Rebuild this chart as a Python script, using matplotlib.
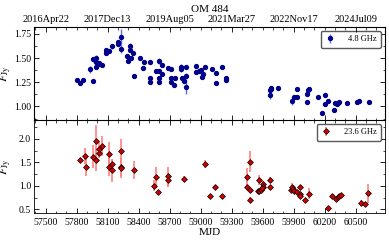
import numpy as np
import matplotlib
matplotlib.use('Agg')
import matplotlib.pyplot as plt
from matplotlib.ticker import MultipleLocator

plt.rcParams['font.family'] = ['Liberation Serif', 'DejaVu Serif']
plt.rcParams['mathtext.fontset'] = 'stix'

# 4.8 GHz light curve (MJD, flux density in Jy, error)
mjd_c = [57806, 57831, 57863, 57925, 57957, 57960, 57983, 57986, 57989, 58015,
         58018, 58044, 58079, 58079, 58111, 58140, 58198, 58198, 58224, 58227,
         58288, 58295, 58317, 58320, 58323, 58349, 58352, 58417, 58449, 58446,
         58507, 58507, 58507, 58565, 58598, 58598, 58598, 58598, 58623, 58626,
         58687, 58713, 58713, 58713, 58748, 58745, 58810, 58810, 58817, 58836,
         58862, 58862, 58862, 58958, 58958, 58984, 59006, 59009, 59025, 59044,
         59112, 59144, 59144, 59211, 59244, 59244, 59672, 59672, 59679, 59682,
         59752, 59884, 59907, 59930, 59930, 60025, 60025, 60042, 60052, 60132,
         60174, 60200, 60200, 60235, 60293, 60297, 60316, 60326, 60338, 60418,
         60509, 60531, 60625]
flux_c = [1.269, 1.241, 1.276, 1.382, 1.258, 1.485, 1.502, 1.403, 1.463, 1.453,
          1.435, 1.424, 1.580, 1.555, 1.573, 1.619, 1.665, 1.644, 1.715, 1.594,
          1.524, 1.467, 1.580, 1.623, 1.495, 1.555, 1.318, 1.502, 1.460, 1.396,
          1.460, 1.297, 1.251, 1.368, 1.467, 1.368, 1.297, 1.251, 1.428, 1.333,
          1.396, 1.389, 1.290, 1.255, 1.290, 1.219, 1.410, 1.382, 1.297, 1.262,
          1.410, 1.318, 1.202, 1.417, 1.357, 1.364, 1.375, 1.308, 1.333, 1.410,
          1.386, 1.350, 1.237, 1.410, 1.290, 1.276, 1.166, 1.116, 1.180, 1.187,
          1.187, 1.060, 1.098, 1.098, 1.176, 1.130, 1.045, 1.169, 1.180, 1.102,
          0.930, 1.116, 1.025, 1.053, 0.965, 1.035, 1.025, 1.035, 1.042, 1.035,
          1.045, 1.053, 1.050]
err_c = [0.012, 0.012, 0.012, 0.04, 0.015, 0.03, 0.03, 0.02, 0.02, 0.02,
         0.02, 0.015, 0.02, 0.015, 0.015, 0.03, 0.02, 0.02, 0.08, 0.04,
         0.02, 0.02, 0.02, 0.03, 0.02, 0.02, 0.015, 0.015, 0.02, 0.02,
         0.02, 0.02, 0.02, 0.015, 0.03, 0.02, 0.02, 0.02, 0.02, 0.015,
         0.02, 0.02, 0.02, 0.02, 0.015, 0.02, 0.03, 0.03, 0.02, 0.02,
         0.02, 0.03, 0.07, 0.02, 0.02, 0.015, 0.015, 0.02, 0.015, 0.015,
         0.015, 0.015, 0.015, 0.015, 0.015, 0.015, 0.02, 0.035, 0.015, 0.015,
         0.015, 0.04, 0.02, 0.02, 0.02, 0.02, 0.015, 0.015, 0.015, 0.015,
         0.02, 0.015, 0.015, 0.015, 0.015, 0.015, 0.015, 0.015, 0.015, 0.015,
         0.015, 0.015, 0.012]

# 23.6 GHz light curve
mjd_k = [57831, 57879, 57893, 57954, 57983, 57983, 58012, 58015, 58041, 58108,
         58111, 58140, 58140, 58231, 58231, 58231, 58356, 58545, 58565, 58588,
         58687, 58687, 58839, 59041, 59086, 59141, 59206, 59447, 59447, 59479,
         59479, 59479, 59553, 59566, 59582, 59569, 59601, 59601, 59595, 59668,
         59668, 59872, 59888, 59897, 59901, 59930, 59962, 59964, 59964, 60010,
         60045, 60235, 60273, 60309, 60325, 60341, 60354, 60547, 60586, 60621]
flux_k = [1.545, 1.636, 1.398, 1.620, 1.957, 1.558, 1.690, 1.775, 1.846, 1.667,
          1.398, 1.467, 1.327, 1.735, 1.398, 1.370, 1.335, 1.005, 1.180, 0.864,
          1.200, 1.130, 1.145, 1.461, 0.780, 0.963, 0.788, 1.180, 0.977, 1.516,
          0.900, 0.704, 0.885, 0.885, 0.900, 1.125, 1.040, 0.980, 0.950, 1.130,
          0.984, 0.914, 0.963, 0.935, 0.893, 0.865, 0.963, 0.830, 0.775, 0.690,
          0.830, 0.536, 0.773, 0.725, 0.752, 0.780, 0.810, 0.633, 0.605, 0.843]
err_k = [0.04, 0.17, 0.2, 0.25, 0.33, 0.25, 0.1, 0.15, 0.22, 0.27,
         0.2, 0.1, 0.25, 0.27, 0.2, 0.2, 0.2, 0.12, 0.22, 0.02,
         0.2, 0.15, 0.07, 0.08, 0.04, 0.05, 0.03, 0.2, 0.05, 0.22,
         0.04, 0.05, 0.05, 0.04, 0.03, 0.1, 0.06, 0.05, 0.04, 0.05,
         0.03, 0.04, 0.1, 0.08, 0.06, 0.03, 0.04, 0.04, 0.04, 0.03,
         0.12, 0.02, 0.06, 0.03, 0.03, 0.03, 0.03, 0.06, 0.02, 0.2]

mjd_ticks = [57500, 57800, 58100, 58400, 58700, 59000, 59300, 59600, 59900, 60200, 60500]
date_ticks = [57500, 58100, 58700, 59300, 59900, 60500]
date_labels = ['2016Apr22', '2017Dec13', '2019Aug05', '2021Mar27', '2022Nov17', '2024Jul09']

fig = plt.figure(figsize=(3.89, 2.40), dpi=100)
gs = fig.add_gridspec(2, 1, hspace=0, left=0.087, right=0.99, top=0.8875, bottom=0.1125)
ax1 = fig.add_subplot(gs[0])
ax2 = fig.add_subplot(gs[1], sharex=ax1)

ax1.errorbar(mjd_c, flux_c, yerr=err_c, fmt='o', ms=2.8, color='#00008b', mec='#00008b',
             ecolor='#5a6cf0', elinewidth=1.0, capsize=0, label='4.8 GHz')
ax2.errorbar(mjd_k, flux_k, yerr=err_k, fmt='D', ms=3.0, mfc='#d40000', mec='k', mew=0.5,
             ecolor='#ff8080', elinewidth=1.2, capsize=0, label='23.6 GHz')

ax1.set_xlim(57385, 60785)
ax1.set_ylim(0.86, 1.82)
ax2.set_ylim(0.42, 2.40)

ax1.yaxis.set_major_locator(MultipleLocator(0.25))
ax1.yaxis.set_minor_locator(MultipleLocator(0.125))
ax2.yaxis.set_major_locator(MultipleLocator(0.5))
ax2.yaxis.set_minor_locator(MultipleLocator(0.25))
ax2.set_xticks(mjd_ticks)
ax2.xaxis.set_minor_locator(MultipleLocator(100))

for ax in (ax1, ax2):
    ax.tick_params(which='both', direction='in', top=True, right=True, labelsize=7)
    ax.tick_params(which='major', length=3.5, width=0.6)
    ax.tick_params(which='minor', length=1.8, width=0.5)
    ax.tick_params(axis='y', pad=2)
    for s in ax.spines.values():
        s.set_linewidth(0.6)
    ax.set_ylabel(r'$F_{\rm Jy}$', fontsize=8.5)
    ax.yaxis.set_label_coords(-0.058, 0.5)
    ax.legend(loc='upper right', fontsize=6, handlelength=1.2, borderpad=0.5,
              framealpha=1, edgecolor='0.35', fancybox=True, handletextpad=1.6)

ax1.tick_params(labelbottom=False)
ax2.set_xlabel('MJD', fontsize=8, labelpad=1)

top = ax1.twiny()
top.set_xlim(ax1.get_xlim())
top.set_xticks(date_ticks)
top.set_xticklabels(date_labels)
top.xaxis.set_minor_locator(MultipleLocator(100))
top.tick_params(which='both', direction='in', labelsize=7.5, pad=2)
top.tick_params(which='major', length=3.5, width=0.6)
top.tick_params(which='minor', length=1.8, width=0.5)
ax1.tick_params(axis='x', which='both', top=False)
top.set_title('OM 484', fontsize=8, pad=2)

fig.savefig('out.png', dpi=100)
